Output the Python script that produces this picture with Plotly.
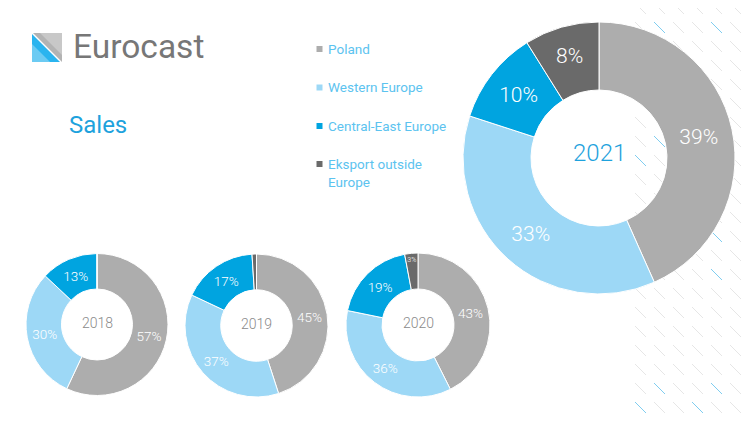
import plotly.graph_objects as go

# ---------------- data ----------------
categories = ["Poland", "Western Europe", "Central-East Europe", "Eksport outside Europe"]
legend_labels = ["Poland", "Western Europe", "Central-East Europe", "Eksport outside<br>Europe"]
years = ["2018", "2019", "2020", "2021"]
sales_2018 = [57, 30, 13, 0]
sales_2019 = [45, 37, 17, 1]
sales_2020 = [43, 36, 19, 3]
sales_2021 = [39, 33, 10, 8]
series = [sales_2018, sales_2019, sales_2020, sales_2021]

colors = ["#adadad", "#9dd8f6", "#00a4e0", "#6a6a6a"]

# ---------------- layout helpers ----------------
# the page body has an 8px margin, so the figure is offset by 8px
OFF = 8
W, H = 750 - OFF, 422 - OFF
FONT = "Roboto"


def px(x):
    return (x - OFF) / W


def py(y):
    return 1 - (y - OFF) / H


# pixel centre and diameter for each donut (window coordinates)
donut_geom = [
    dict(cx=97, cy=324.5, d=142, label_size=13.5, center_size=14, center_color="#8a8a8a", dy=-2),
    dict(cx=256.5, cy=325.5, d=143, label_size=13.5, center_size=14, center_color="#8a8a8a", dy=-2),
    dict(cx=418, cy=325, d=144, label_size=13.5, center_size=14, center_color="#8a8a8a", dy=-2),
    dict(cx=599, cy=158, d=272, label_size=21, center_size=24, center_color="#1ea2dd", dy=-5),
]

fig = go.Figure()

for year, vals, g in zip(years, series, donut_geom):
    texts = [f"{v}%" if v >= 2 else "" for v in vals]
    fig.add_trace(go.Pie(
        labels=categories,
        values=vals,
        text=texts,
        textinfo="text",
        textposition="inside",
        insidetextorientation="horizontal",
        hole=0.5,
        sort=False,
        direction="clockwise",
        rotation=0,
        marker=dict(colors=colors, line=dict(color="white", width=1)),
        textfont=dict(family=FONT, size=g["label_size"], color="white", weight=300),
        domain=dict(
            x=[px(g["cx"] - g["d"] / 2), px(g["cx"] + g["d"] / 2)],
            y=[py(g["cy"] + g["d"] / 2), py(g["cy"] - g["d"] / 2)],
        ),
        showlegend=False,
        hoverinfo="label+value",
        name=year,
    ))

annotations = []
shapes = []

# centre year labels
for year, g in zip(years, donut_geom):
    annotations.append(dict(
        x=px(g["cx"]), y=py(g["cy"] + g["dy"]), xref="paper", yref="paper",
        text=year, showarrow=False,
        font=dict(family=FONT, size=g["center_size"], color=g["center_color"], weight=300),
        xanchor="center", yanchor="middle",
    ))

# decorative hatch in background (right side)
hatch_cols = [635, 654, 673, 692, 711, 730]
hatch_rows = [3 + 19 * i for i in range(22)]
blue_cells = {(654, 22), (711, 22), (654, 136), (635, 155), (711, 231), (711, 269),
              (654, 383), (711, 383), (635, 402), (692, 402)}
for hx in hatch_cols:
    for hy in hatch_rows:
        blue = (hx, hy) in blue_cells
        shapes.append(dict(
            type="line", xref="paper", yref="paper", layer="below",
            x0=px(hx), y0=py(hy), x1=px(hx + 11), y1=py(hy + 11),
            line=dict(color="#7fcdf0" if blue else "#e6e6e6", width=1),
        ))

# logo
def path(points):
    return "M " + " L ".join(f"{px(a)},{py(b)}" for a, b in points) + " Z"

shapes.append(dict(type="path", xref="paper", yref="paper",
                   path=path([(33, 33), (62, 33), (62, 62)]),
                   fillcolor="#b3b3b3", line=dict(width=0)))
shapes.append(dict(type="path", xref="paper", yref="paper",
                   path=path([(40, 33), (62, 33), (62, 55)]),
                   fillcolor="#c8c8c8", line=dict(width=0)))
shapes.append(dict(type="path", xref="paper", yref="paper",
                   path=path([(32, 34), (32, 62), (60, 62)]),
                   fillcolor="#2ab4ef", line=dict(width=0)))
shapes.append(dict(type="path", xref="paper", yref="paper",
                   path=path([(32, 44), (32, 62), (50, 62)]),
                   fillcolor="#6ccbf3", line=dict(width=0)))

annotations.append(dict(
    x=px(71), y=py(47), xref="paper", yref="paper", text="Eurocast",
    showarrow=False, xanchor="left", yanchor="middle",
    font=dict(family=FONT, size=33.5, color="#777777"),
))
annotations.append(dict(
    x=px(67), y=py(125), xref="paper", yref="paper", text="Sales",
    showarrow=False, xanchor="left", yanchor="middle",
    font=dict(family=FONT, size=24, color="#1ea2dd"),
))

# custom legend
legend_y = [49, 87.5, 126, 164]
for lab, col, ly in zip(legend_labels, colors, legend_y):
    shapes.append(dict(type="rect", xref="paper", yref="paper",
                       x0=px(316.5), x1=px(322.5), y0=py(ly - 3), y1=py(ly + 3),
                       fillcolor=col, line=dict(width=0)))
    annotations.append(dict(
        x=px(326), y=py(ly - 10), xref="paper", yref="paper", text=lab,
        showarrow=False, xanchor="left", yanchor="top", align="left",
        font=dict(family=FONT, size=13.5, color="#5cc3ef"),
    ))

fig.update_layout(
    width=W, height=H,
    margin=dict(l=0, r=0, t=0, b=0),
    paper_bgcolor="white", plot_bgcolor="white",
    annotations=annotations, shapes=shapes,
    font=dict(family=FONT),
)

fig.write_html("out.html")
